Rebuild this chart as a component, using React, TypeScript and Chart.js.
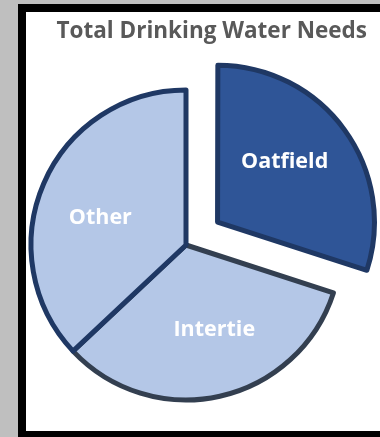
import React, { useEffect, useRef } from "react";
import { Chart, registerables } from "chart.js";

Chart.register(...registerables);

const categories = ["Oatfield", "Intertie", "Other"];
const values = [30, 33, 37];
const fillColors = ["#2F5597", "#B4C7E7", "#B4C7E7"];
const borderColors = ["#1F3864", "#333F50", "#1F3864"];
const offsets = [156, 0, 0];
const titleText = "Total Drinking Water Needs";

const labelPlugin = {
  id: "sliceLabels",
  afterDatasetsDraw(chart: any) {
    const ctx = chart.ctx;
    const meta = chart.getDatasetMeta(0);
    ctx.save();
    ctx.font = "bold 21.5px 'Open Sans'";
    ctx.fillStyle = "#ffffff";
    ctx.textAlign = "center";
    ctx.textBaseline = "middle";
    meta.data.forEach((arc: any, i: number) => {
      const p = arc.getProps(["x", "y", "startAngle", "endAngle", "outerRadius"], true);
      const mid = (p.startAngle + p.endAngle) / 2;
      const off = (offsets[i] || 0) / 4;
      const cx = p.x + Math.cos(mid) * off;
      const cy = p.y + Math.sin(mid) * off;
      const a = mid - 0.1;
      const r = p.outerRadius * 0.58;
      ctx.fillText(categories[i], cx + Math.cos(a) * r, cy + Math.sin(a) * r);
    });
    ctx.restore();
  },
};

export default function App() {
  const ref = useRef<HTMLCanvasElement>(null);
  useEffect(() => {
    if (!ref.current) return;
    const chart = new Chart(ref.current, {
      type: "pie",
      data: {
        labels: categories,
        datasets: [
          {
            data: values,
            backgroundColor: fillColors,
            borderColor: borderColors,
            borderWidth: 5,
            offset: offsets,
            borderJoinStyle: "round",
            clip: false,
          } as any,
        ],
      },
      options: {
        responsive: false,
        animation: false,
        radius: 155,
        layout: { padding: { left: 5, right: 13, top: 10, bottom: 0 } },
        plugins: {
          legend: { display: false },
          tooltip: { enabled: false },
          title: {
            display: true,
            text: titleText,
            align: "end",
            color: "#595959",
            font: { family: "'Open Sans'", size: 22.5, weight: "bold", lineHeight: 1.2 },
            padding: { top: 8.5, bottom: 7.5 },
          },
        },
      } as any,
      plugins: [labelPlugin],
    });
    return () => chart.destroy();
  }, []);

  return (
    <div
      style={{
        position: "fixed",
        left: 0,
        top: 0,
        width: 380,
        height: 437,
        overflow: "hidden",
        background: "#bfbfbf",
      }}
    >
      <div
        style={{
          position: "absolute",
          left: 18,
          top: 4,
          width: 440,
          height: 435,
          boxSizing: "border-box",
          border: "8px solid #000",
          background: "#fff",
        }}
      />
      <canvas
        ref={ref}
        width={380}
        height={437}
        style={{ position: "absolute", left: 0, top: 0, display: "block" }}
      />
    </div>
  );
}
